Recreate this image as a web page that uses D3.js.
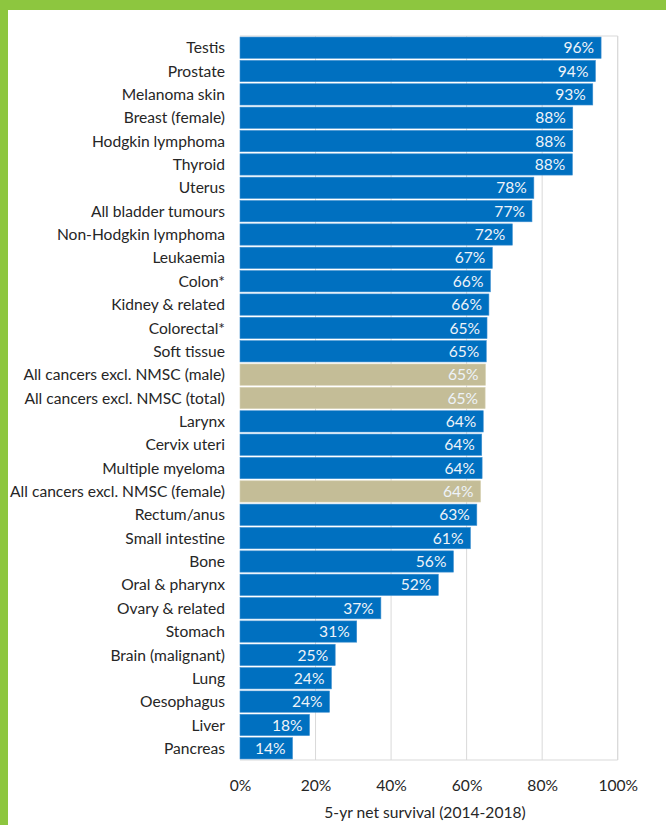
<!DOCTYPE html>
<html><head><meta charset="utf-8">
<script src="https://cdn.jsdelivr.net/npm/d3@7"></script>
<style>body{margin:0;background:#fff} text{font-family:Lato,"Open Sans",sans-serif}</style>
</head><body><svg id="c" width="666" height="825"></svg>
<script>
const categories = ["Testis","Prostate","Melanoma skin","Breast (female)","Hodgkin lymphoma","Thyroid","Uterus","All bladder tumours","Non-Hodgkin lymphoma","Leukaemia","Colon*","Kidney & related","Colorectal*","Soft tissue","All cancers excl. NMSC (male)","All cancers excl. NMSC (total)","Larynx","Cervix uteri","Multiple myeloma","All cancers excl. NMSC (female)","Rectum/anus","Small intestine","Bone","Oral & pharynx","Ovary & related","Stomach","Brain (malignant)","Lung","Oesophagus","Liver","Pancreas"];
const values = [95.6,94.1,93.4,88.1,88.1,88.0,77.8,77.3,72.1,66.8,66.3,65.9,65.4,65.2,65.0,64.9,64.4,64.0,64.1,63.7,62.7,61.0,56.5,52.5,37.3,30.9,25.2,24.2,23.7,18.4,13.9];
const valueLabels = ["96%","94%","93%","88%","88%","88%","78%","77%","72%","67%","66%","66%","65%","65%","65%","65%","64%","64%","64%","64%","63%","61%","56%","52%","37%","31%","25%","24%","24%","18%","14%"];
const tickValues = [0,20,40,60,80,100];
const axisTitle = "5-yr net survival (2014-2018)";

const svg = d3.select("#c");
svg.append("rect").attr("width",666).attr("height",825).attr("fill","#fff");
svg.append("rect").attr("x",0).attr("y",0).attr("width",666).attr("height",10).attr("fill","#8DC63F");
svg.append("rect").attr("x",0).attr("y",0).attr("width",8).attr("height",825).attr("fill","#8DC63F");

const x = d3.scaleLinear().domain([0,100]).range([240,617.7]);
const y = d3.scaleBand().domain(categories).range([36,760]).paddingInner(0.09).paddingOuter(0.045);

svg.append("g").selectAll("line").data(tickValues.slice(1)).join("line")
  .attr("x1",d=>x(d)).attr("x2",d=>x(d)).attr("y1",36).attr("y2",760)
  .attr("stroke","#d9d9d9").attr("stroke-width",1);
svg.append("path").attr("d",`M${x(0)},36H${x(100)}V760H${x(0)}`).attr("fill","none").attr("stroke","#d9d9d9");

const data = categories.map((c,i)=>({c, v:values[i], l:valueLabels[i]}));
svg.append("g").selectAll("rect").data(data).join("rect")
  .attr("x",x(0)).attr("y",d=>y(d.c)).attr("width",d=>x(d.v)-x(0)).attr("height",y.bandwidth())
  .attr("fill",d=>d.c.startsWith("All cancers")?"#C4BD97":"#0070C0")
  .attr("stroke",d=>d.c.startsWith("All cancers")?"#d8d2b4":"#3d8fd0").attr("stroke-width",0.6);

svg.append("g").selectAll("text").data(data).join("text")
  .attr("x",d=>x(d.v)-7).attr("y",d=>y(d.c)+y.bandwidth()/2).attr("dy","0.36em")
  .attr("text-anchor","end").attr("fill","#eef3f9").attr("font-size",15.6).text(d=>d.l);

svg.append("g").selectAll("text").data(categories).join("text")
  .attr("x",225).attr("y",d=>y(d)+y.bandwidth()/2).attr("dy","0.36em")
  .attr("text-anchor","end").attr("fill","#262626").attr("font-size",15.6).text(d=>d);

const ax = svg.append("g").attr("transform","translate(0,760)")
  .call(d3.axisBottom(x).tickValues(tickValues).tickFormat(d=>d+"%").tickSize(0).tickPadding(20));
ax.select(".domain").remove();
ax.selectAll("text").attr("font-size",15.6).attr("fill","#262626").attr("font-family","Lato,'Open Sans',sans-serif");

svg.append("text").attr("x",425).attr("y",818).attr("text-anchor","middle")
  .attr("font-size",15.6).attr("fill","#262626").text(axisTitle);
</script></body></html>
